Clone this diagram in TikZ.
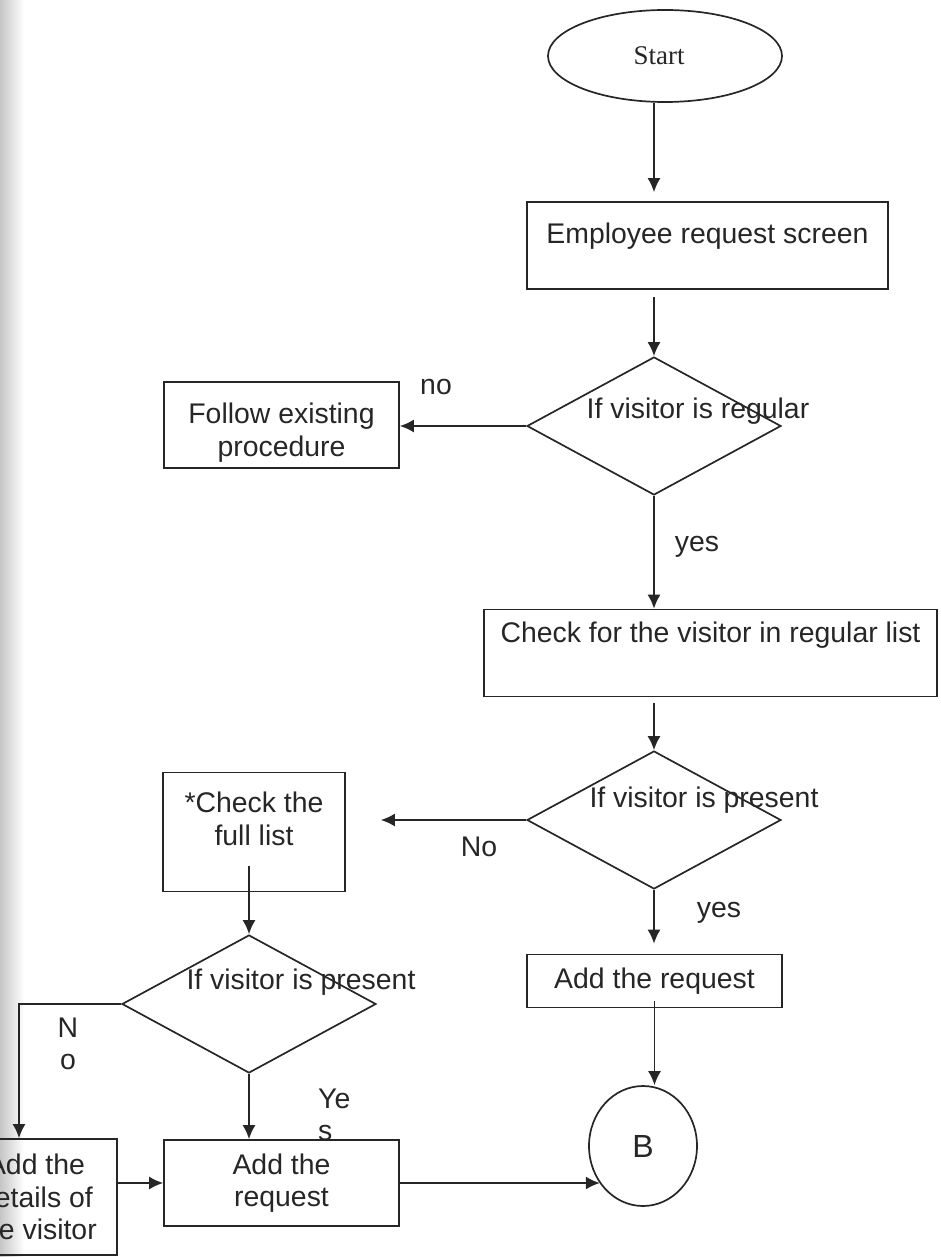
\documentclass[tikz,border=0pt]{standalone}
\usepackage{fontspec}
\setmainfont{Liberation Sans}
\newfontfamily\startfont{Liberation Serif}
\usetikzlibrary{shapes.geometric,arrows.meta,positioning}

\begin{document}
\begin{tikzpicture}[x=1pt, y=-1pt, color=black!85, line width=1.7pt,
        font=\fontsize{28.4}{32.7}\selectfont,
        box/.style={draw, rectangle, align=center, inner sep=0pt},
        dia/.style={draw, diamond, minimum width=254pt, minimum height=138pt, inner sep=0pt},
        arr/.style={-{Latex[length=14pt,width=13pt]}}]
        \useasboundingbox (0,0) rectangle (940,1257);
        \clip (0,0) rectangle (940,1257);
        \shade[left color=gray!45, middle color=gray!75, right color=white] (0,0) rectangle (24,1257);
        % main column
        \node[draw, ellipse, minimum width=234pt, minimum height=92pt, inner sep=0pt, font=\startfont\fontsize{27}{30}\selectfont] (start) at (665,56) {\raisebox{-4pt}{Start}\hspace*{12pt}};
        \node[box, minimum width=361pt, minimum height=87pt] (emp) at (707.5,245.5) {\rule{0pt}{38pt}Employee request screen\\\strut};
        \node[dia] (d1) at (654,426) {};
        \node (d1txt) at (698,411) {If visitor is regular};
        \node[box, minimum width=235pt, minimum height=86pt] (follow) at (281.5,425) {\rule{0pt}{36pt}Follow existing\\procedure};
        \node[box, minimum width=453pt, minimum height=87pt] (chkreg) at (710.5,653) {Check for the visitor in regular list\\\strut};
        \node[dia] (d2) at (654,820) {};
        \node (d2txt) at (704,800) {If visitor is present};
        \node[box, minimum width=255pt, minimum height=53pt] (addR) at (654.5,981) {Add the request};
        \node[draw, ellipse, minimum width=108pt, minimum height=120pt, inner sep=0pt, font=\fontsize{32}{38}\selectfont] (B) at (643,1146) {B};
        % left column
        \node[box, minimum width=182pt, minimum height=119pt] (chkfull) at (254,832) {\rule{0pt}{37pt}*Check the\\full list\\\strut};
        \node[dia] (d3) at (249,1004) {};
        \node (d3txt) at (301,982) {If visitor is present};
        \node[box, minimum width=235pt, minimum height=86pt] (addL) at (281.5,1183) {Add the\\request};
        \node[box, minimum width=162pt, minimum height=116pt] (details) at (36,1197) {Add the\\details of\\the visitor};
        \coordinate (nobend) at (19,1004);
        % labels
        \node (lno1) at (436,387) {no};
        \node (lyes1) at (697,547) {yes};
        \node (lno2) at (479,847) {No};
        \node (lyes2) at (719,913) {yes};
        \node[align=center] (lno3) at (68,1044) {N\\o};
        \node[align=left, anchor=west] (lyes3) at (314,1115) {Ye\\s};
        % connectors
        \draw[arr, shorten >=9pt] (start.south -| d1) -- (emp.north -| d1);
        \draw[arr, shorten <=7pt] (emp.south -| d1) -- (d1.north);
        \draw[arr] (d1.west) -- (d1.west -| follow.east);
        \draw[arr] (d1.south) -- (d1.south |- chkreg.north);
        \draw[arr, shorten <=6pt] (chkreg.south -| d2) -- (d2.north);
        \draw[arr, shorten >=35pt] (d2.west) -- (d2.west -| chkfull.east);
        \draw[arr, shorten >=10pt] (d2.south) -- (d2.south |- addR.north);
        \draw[arr, shorten <=-7pt] (addR.south) -- (addR.south |- B.north);
        \draw[arr, shorten <=-26pt] (chkfull.south -| d3) -- (d3.north);
        \draw[arr] (d3.south) -- (d3.south |- addL.north);
        \draw[arr] (d3.west) -- (nobend) -- (nobend |- details.north);
        \draw[arr] (addL.west -| details.east) -- (addL.west);
        \draw[arr] (addL.east) -- (addL.east -| B.221);
\end{tikzpicture}
\end{document}
